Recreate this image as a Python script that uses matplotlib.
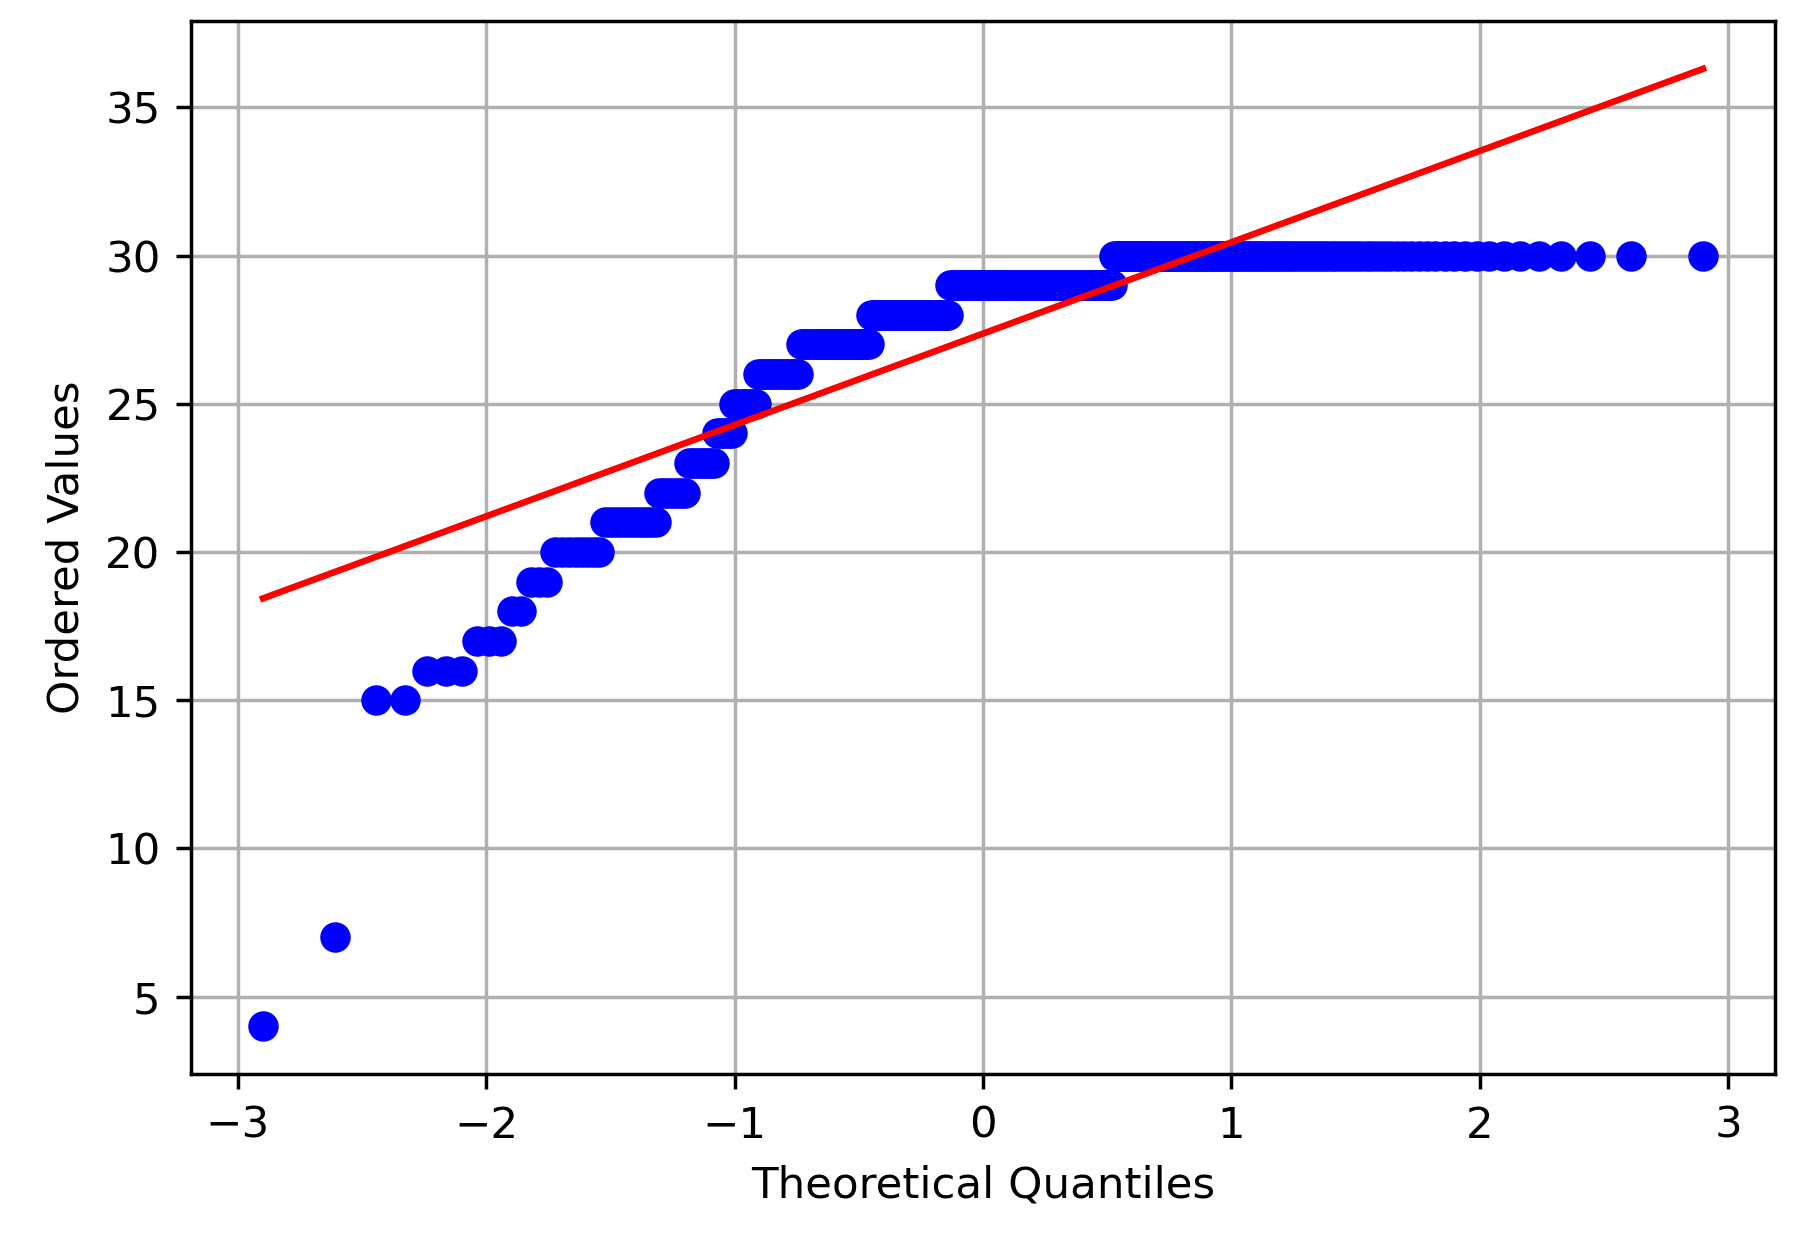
"""
Q-Q plot (normal probability plot) of the ordered values.
Theoretical quantiles via Filliben order-statistic medians, like scipy.stats.probplot.
"""
from statistics import NormalDist
import numpy as np
import matplotlib
matplotlib.use("Agg")
import matplotlib.pyplot as plt

# distinct observed values and how many times each one appears
valores = [4, 7, 15, 16, 17, 18, 19, 20, 21, 22, 23, 24, 25, 26, 27, 28, 29, 30]
conteos = [1, 1, 2, 3, 3, 2, 3, 8, 12, 8, 9, 6, 9, 18, 35, 45, 94, 111]

ordenados = np.repeat(valores, conteos).astype(float)
n = len(ordenados)

# Filliben medians
m = (np.arange(1, n + 1) - 0.3175) / (n + 0.365)
m[-1] = 0.5 ** (1.0 / n)
m[0] = 1 - m[-1]
normal = NormalDist()
cuantiles = np.array([normal.inv_cdf(p) for p in m])

pendiente, intercepto = np.polyfit(cuantiles, ordenados, 1)

fig = plt.figure(figsize=(5.75, 3.944), dpi=313.4)
ax = fig.add_axes([0.106, 0.131, 0.879, 0.852])
ax.plot(cuantiles, ordenados, "bo")
ax.plot(cuantiles, pendiente * cuantiles + intercepto, "r-")
ax.set_xlabel("Theoretical Quantiles")
ax.set_ylabel("Ordered Values")
ax.set_xticks([-3, -2, -1, 0, 1, 2, 3])
ax.set_yticks([5, 10, 15, 20, 25, 30, 35])
ax.grid(True)

fig.savefig("out.png", dpi=313.4)
